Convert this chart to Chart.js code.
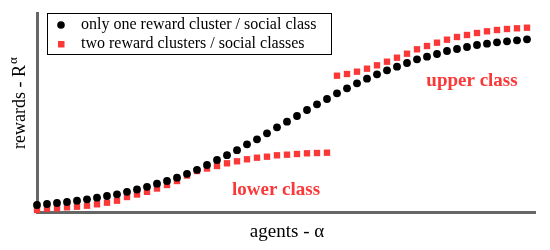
<!DOCTYPE html>
<html>
<head>
<meta charset="utf-8">
<script src="https://cdn.jsdelivr.net/npm/chart.js@4.4.1/dist/chart.umd.min.js"></script>
<style>
  html, body { margin: 0; padding: 0; background: #fff; }
  #wrap { width: 550px; height: 250px; }
</style>
</head>
<body>
<div id="wrap"><canvas id="chart"></canvas></div>
<script>
"use strict";

// agent index along the x axis
const agents = [
  1, 2, 3, 4, 5, 6, 7, 8, 9, 10,
  11, 12, 13, 14, 15, 16, 17, 18, 19, 20,
  21, 22, 23, 24, 25, 26, 27, 28, 29, 30,
  31, 32, 33, 34, 35, 36, 37, 38, 39, 40,
  41, 42, 43, 44, 45, 46, 47, 48, 49, 50,
];

// rewards (arbitrary units)
const oneCluster = [
  7, 8, 9, 10, 11.3, 12.7, 14.3, 16, 17.7, 20.2,
  22.5, 25.2, 28.3, 31, 34.3, 38.2, 42.2, 47, 52, 56.8,
  61.8, 67.7, 72.7, 78.7, 84.7, 90.3, 96, 102, 107.7, 113,
  118.7, 123.7, 128.7, 133.3, 137.7, 141.7, 145.3, 149, 152.7, 155.3,
  158, 161, 163, 165, 167, 168.3, 169.7, 170.7, 171.7, 172.7,
];
const twoLower = [
  2, 3.3, 3.7, 4.7, 5.3, 6.3, 7.7, 9.3, 11.3, 15,
  17.5, 20.2, 23.5, 27, 31, 36.5, 41, 43.5, 46, 48.7,
  50.7, 52.7, 54.3, 55.3, 56.7, 57.3, 58, 58.7, 59, 59.3,
];
const twoUpper = [
  136.3, 138, 140.3, 143.3, 146.7, 150.3, 154.3, 158.3, 162.7, 166,
  169.3, 172.3, 175, 177, 179, 180.7, 182, 183, 183.7, 184.3,
];

const seriesNames = [
  "only one reward cluster / social class",
  "two reward clusters / social classes",
];
const classLabels = ["lower class", "upper class"];
const xTitle = "agents - α";
const yTitle = "rewards - R";
const yTitleSup = "α";

const RED = "#fb3838";
const SERIF = "'Liberation Serif', 'DejaVu Serif', serif";

const pts = (xs, ys) => ys.map((y, i) => ({ x: xs[i], y }));

// legend box, axis titles and the two class labels
const decorations = {
  id: "decorations",
  afterDraw(chart) {
    const ctx = chart.ctx;
    const { x, y } = chart.scales;
    ctx.save();

    // legend
    ctx.strokeStyle = "#000";
    ctx.lineWidth = 1;
    ctx.strokeRect(47.5, 13.5, 284, 41);
    ctx.fillStyle = "#000";
    ctx.beginPath();
    ctx.arc(61, 25, 3.8, 0, Math.PI * 2);
    ctx.fill();
    ctx.fillStyle = RED;
    ctx.fillRect(58, 41, 6.5, 6.5);
    ctx.fillStyle = "#000";
    ctx.font = `16px ${SERIF}`;
    ctx.textBaseline = "middle";
    ctx.textAlign = "left";
    ctx.fillText(seriesNames[0], 81, 25);
    ctx.fillText(seriesNames[1], 81, 44);

    // x title
    ctx.font = `19px ${SERIF}`;
    ctx.textAlign = "center";
    ctx.textBaseline = "alphabetic";
    ctx.fillText(xTitle, 287, 237);

    // y title with superscript
    ctx.save();
    ctx.translate(25, 149);
    ctx.rotate(-Math.PI / 2);
    ctx.textAlign = "left";
    ctx.font = `18px ${SERIF}`;
    ctx.fillText(yTitle, 0, 0);
    const w = ctx.measureText(yTitle).width;
    ctx.font = `13px ${SERIF}`;
    ctx.fillText(yTitleSup, w + 1, -8);
    ctx.restore();

    // class labels
    ctx.fillStyle = RED;
    ctx.font = `bold 19px ${SERIF}`;
    ctx.textAlign = "center";
    ctx.fillText(classLabels[0], x.getPixelForValue(24.9), y.getPixelForValue(17));
    ctx.fillText(classLabels[1], x.getPixelForValue(44.5), y.getPixelForValue(126));

    ctx.restore();
  },
};

const axisStyle = {
  display: true,
  grid: { display: false, drawTicks: false },
  ticks: { display: false },
  border: { display: true, color: "#666", width: 3 },
  z: 1,
};

new Chart(document.getElementById("chart"), {
  type: "scatter",
  data: {
    datasets: [
      {
        label: seriesNames[0],
        data: pts(agents, oneCluster),
        pointStyle: "circle",
        pointRadius: 3.9,
        pointBorderWidth: 0,
        backgroundColor: "#000",
        clip: false,
      },
      {
        label: seriesNames[1],
        data: pts(agents, twoLower.concat(twoUpper)),
        pointStyle: "rect",
        pointRadius: 4.5,
        pointBorderWidth: 0,
        backgroundColor: RED,
        clip: false,
      },
    ],
  },
  options: {
    responsive: true,
    maintainAspectRatio: false,
    animation: false,
    devicePixelRatio: 1,
    layout: { padding: { left: 37, right: 15, top: 13, bottom: 38 } },
    plugins: {
      legend: { display: false },
      tooltip: { enabled: false },
    },
    scales: {
      x: { ...axisStyle, type: "linear", min: 1, max: 50.8 },
      y: { ...axisStyle, type: "linear", min: 0, max: 199 },
    },
  },
  plugins: [decorations],
});
</script>
</body>
</html>
